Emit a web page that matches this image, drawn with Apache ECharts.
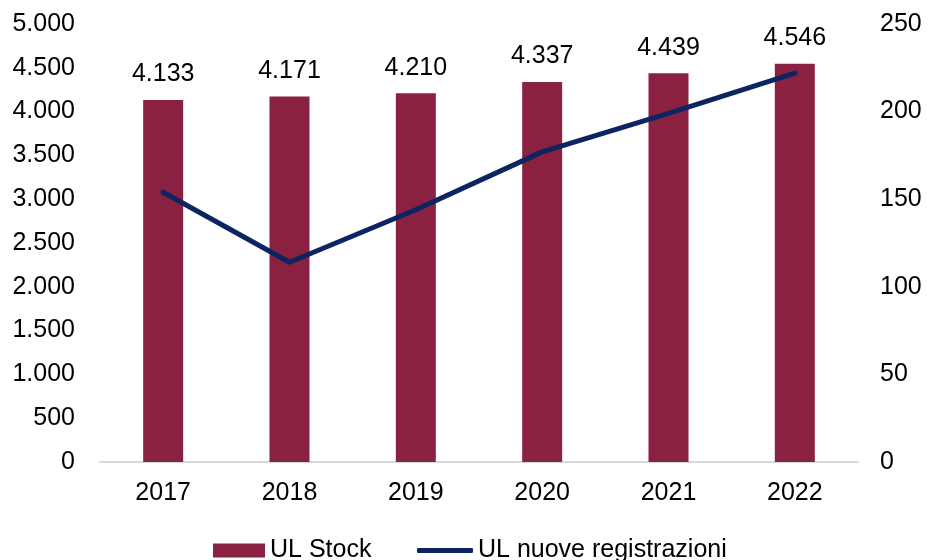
<!DOCTYPE html>
<html>
<head>
<meta charset="utf-8">
<script src="https://cdn.jsdelivr.net/npm/echarts@6/dist/echarts.min.js"></script>
<style>
  html, body { margin: 0; padding: 0; background: #fff; }
  #chart { width: 928px; height: 560px; }
</style>
</head>
<body>
<div id="chart"></div>
<script>
const YEARS = ['2017', '2018', '2019', '2020', '2021', '2022'];
const UL_STOCK = [4133, 4171, 4210, 4337, 4439, 4546];
const UL_NUOVE = [154, 114, 144, 177, 199, 222];

const FONT = 'Liberation Sans, Arial, sans-serif';
const FS = 25;
const BAR_COLOR = '#8b2141';
const LINE_COLOR = '#0c2461';

// thousands with a dot, italian style
function fmt(v) {
  return String(v).replace(/\B(?=(\d{3})+(?!\d))/g, '.');
}

let chart = echarts.init(document.getElementById('chart'));

chart.setOption({
  animation: false,
  textStyle: { fontFamily: FONT, color: '#000' },
  grid: { left: 100, right: 70, top: 24, bottom: 98 },
  legend: [
    {
      left: 208,
      top: 533,
      itemWidth: 52,
      itemHeight: 14,
      itemGap: 6,
      textStyle: { fontSize: FS, color: '#000', fontFamily: FONT, padding: [2, 0, 0, 0] },
      data: [{ name: 'UL Stock', icon: 'rect' }]
    },
    {
      left: 412,
      top: 533,
      itemWidth: 56,
      itemHeight: 5,
      itemGap: 4,
      textStyle: { fontSize: FS, color: '#000', fontFamily: FONT, padding: [2, 0, 0, 0] },
      data: [{ name: 'UL nuove registrazioni', icon: 'roundRect' }]
    }
  ],
  xAxis: {
    type: 'category',
    data: YEARS,
    axisLine: { lineStyle: { color: '#d9d9d9', width: 2 } },
    axisTick: { show: false },
    axisLabel: { fontSize: FS, color: '#000', margin: 19, fontFamily: FONT }
  },
  yAxis: [
    {
      type: 'value',
      min: 0,
      max: 5000,
      interval: 500,
      splitLine: { show: false },
      axisLine: { show: false },
      axisTick: { show: false },
      axisLabel: { fontSize: FS, color: '#000', margin: 25, fontFamily: FONT, formatter: fmt }
    },
    {
      type: 'value',
      min: 0,
      max: 250,
      interval: 50,
      splitLine: { show: false },
      axisLine: { show: false },
      axisTick: { show: false },
      axisLabel: { fontSize: FS, color: '#000', margin: 22, fontFamily: FONT }
    }
  ],
  series: [
    {
      name: 'UL Stock',
      type: 'bar',
      data: UL_STOCK,
      barWidth: 40,
      itemStyle: { color: BAR_COLOR },
      label: {
        show: true,
        position: 'top',
        distance: 13,
        fontSize: FS,
        color: '#000',
        fontFamily: FONT,
        formatter: p => fmt(p.value)
      }
    },
    {
      name: 'UL nuove registrazioni',
      type: 'line',
      yAxisIndex: 1,
      data: UL_NUOVE,
      symbol: 'none',
      lineStyle: { color: LINE_COLOR, width: 5, cap: 'round' },
      itemStyle: { color: LINE_COLOR }
    }
  ]
});
</script>
</body>
</html>
